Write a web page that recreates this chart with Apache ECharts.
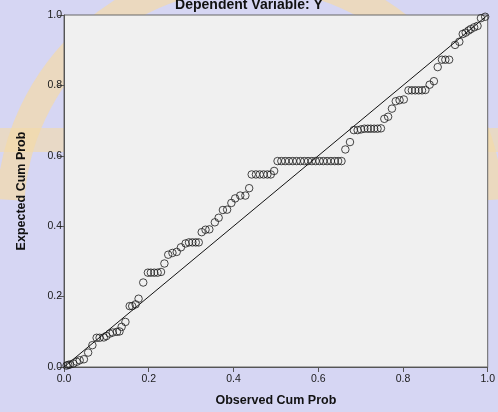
<!DOCTYPE html>
<html>
<head>
<meta charset="utf-8">
<script src="https://cdn.jsdelivr.net/npm/echarts@6/dist/echarts.min.js"></script>
<style>html,body{margin:0;padding:0;background:#d6d6f3;}#c{width:498px;height:412px;}</style>
</head>
<body>
<div id="c"></div>
<script>
const titleText = "Dependent Variable: Y";
const xAxisName = "Observed Cum Prob";
const yAxisName = "Expected Cum Prob";
const tickValues = [0.0, 0.2, 0.4, 0.6, 0.8, 1.0];

const observed = [
  0.006, 0.010, 0.014, 0.022, 0.030, 0.037, 0.047, 0.057, 0.067, 0.077, 0.084, 0.094, 0.100,
  0.108, 0.115, 0.125, 0.131, 0.136, 0.145, 0.155, 0.161, 0.169, 0.176,
  0.187, 0.198, 0.205, 0.213, 0.221, 0.229, 0.237,
  0.246, 0.256, 0.266, 0.276, 0.287, 0.295, 0.303, 0.311, 0.318,
  0.325, 0.334, 0.343, 0.356, 0.365, 0.375, 0.385, 0.395, 0.404, 0.416, 0.428, 0.437,
  0.443, 0.453, 0.462, 0.471, 0.480, 0.488, 0.496,
  0.504, 0.513, 0.522, 0.531, 0.540, 0.549, 0.558, 0.567, 0.576, 0.585, 0.594, 0.603, 0.612,
  0.621, 0.630, 0.639, 0.647, 0.655,
  0.664, 0.675,
  0.684, 0.693, 0.701, 0.709, 0.717, 0.724, 0.732, 0.740, 0.748,
  0.756, 0.765, 0.774, 0.783, 0.792, 0.802,
  0.813, 0.821, 0.829, 0.837, 0.845, 0.853, 0.863, 0.873,
  0.882, 0.892, 0.900, 0.909, 0.923, 0.933, 0.941, 0.948, 0.955, 0.960, 0.968, 0.976,
  0.984, 0.994
];
const expected = [
  0.004, 0.006, 0.007, 0.010, 0.015, 0.019, 0.022, 0.041, 0.062, 0.083, 0.083, 0.084, 0.088,
  0.095, 0.098, 0.100, 0.101, 0.114, 0.128, 0.173, 0.173, 0.178, 0.194,
  0.240, 0.268, 0.268, 0.268, 0.268, 0.270, 0.294,
  0.319, 0.324, 0.327, 0.340, 0.351, 0.354, 0.354, 0.354, 0.354,
  0.383, 0.390, 0.391, 0.411, 0.424, 0.446, 0.447, 0.466, 0.479, 0.487, 0.487, 0.508,
  0.547, 0.547, 0.547, 0.547, 0.547, 0.547, 0.557,
  0.585, 0.585, 0.585, 0.585, 0.585, 0.585, 0.585, 0.585, 0.585, 0.585, 0.585, 0.585, 0.585,
  0.585, 0.585, 0.585, 0.585, 0.585,
  0.618, 0.639,
  0.673, 0.673, 0.675, 0.677, 0.677, 0.677, 0.677, 0.677, 0.678,
  0.705, 0.711, 0.734, 0.755, 0.758, 0.760,
  0.786, 0.786, 0.786, 0.786, 0.786, 0.787, 0.802, 0.812,
  0.852, 0.873, 0.873, 0.873, 0.915, 0.924, 0.946, 0.950, 0.956, 0.960, 0.965, 0.969,
  0.991, 0.995
];
const refLine = [[0, 0], [1, 1]];

const points = observed.map((x, i) => [x, expected[i]]);

const chart = echarts.init(document.getElementById('c'), null, {renderer: 'canvas'});
const axisFont = {fontFamily: 'Liberation Sans, Arial, sans-serif', fontSize: 10.5, color: '#1a1a1a'};
chart.setOption({
  backgroundColor: '#d6d6f3',
  animation: false,
  graphic: [
    {type: 'arc', silent: true, z: -10,
     shape: {cx: 250, cy: 215, r: 240, startAngle: Math.PI * 1.02, endAngle: Math.PI * 1.98, clockwise: true},
     style: {fill: 'none', stroke: 'rgba(244,218,168,0.7)', lineWidth: 28}},
    {type: 'rect', silent: true, z: -10, shape: {x: 0, y: 128, width: 498, height: 24},
     style: {fill: 'rgba(244,218,168,0.6)'}}
  ],
  title: {
    text: titleText, left: 'center', top: -7,
    textStyle: {fontFamily: 'Liberation Sans, Arial, sans-serif', fontSize: 14, fontWeight: 'bold', color: '#111'}
  },
  grid: {left: 64, right: 7, top: 15, bottom: 43.5, show: true, backgroundColor: '#f0f0f0', borderColor: '#666', borderWidth: 1},
  xAxis: {
    type: 'value', min: 0, max: 1, interval: 0.2,
    name: xAxisName, nameLocation: 'middle', nameGap: 27,
    nameTextStyle: {fontFamily: 'Liberation Sans, Arial, sans-serif', fontSize: 12.5, fontWeight: 'bold', color: '#111'},
    axisLine: {show: true, lineStyle: {color: '#555', width: 1}},
    axisTick: {show: true, length: 5, lineStyle: {color: '#555'}},
    axisLabel: Object.assign({margin: 7, formatter: v => tickValues.includes(+v.toFixed(1)) ? v.toFixed(1) : ''}, axisFont),
    splitLine: {show: false}
  },
  yAxis: {
    type: 'value', min: 0, max: 1, interval: 0.2,
    name: yAxisName, nameLocation: 'middle', nameGap: 36, nameRotate: 90,
    nameTextStyle: {fontFamily: 'Liberation Sans, Arial, sans-serif', fontSize: 12.5, fontWeight: 'bold', color: '#111'},
    axisLine: {show: true, lineStyle: {color: '#555', width: 1}},
    axisTick: {show: true, length: 6, lineStyle: {color: '#555'}},
    axisLabel: Object.assign({margin: 2, formatter: v => v.toFixed(1)}, axisFont),
    splitLine: {show: false}
  },
  series: [
    {
      type: 'line', data: refLine, symbol: 'none', silent: true,
      lineStyle: {color: '#111', width: 1}, z: 2
    },
    {
      type: 'scatter', data: points, symbol: 'circle', symbolSize: 7.5,
      itemStyle: {color: 'rgba(0,0,0,0)', borderColor: '#1a1a1a', borderWidth: 1}, z: 3
    }
  ]
});
</script>
</body>
</html>
